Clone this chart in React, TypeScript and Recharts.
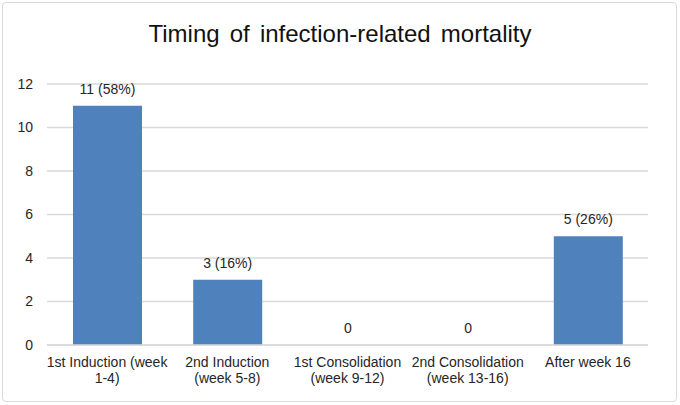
import { Bar, BarChart, CartesianGrid, LabelList, XAxis, YAxis } from "recharts";

const CATEGORIES = [
  "1st Induction (week\n1-4)",
  "2nd Induction\n(week 5-8)",
  "1st Consolidation\n(week 9-12)",
  "2nd Consolidation\n(week 13-16)",
  "After week 16",
];
const DEATHS = [11, 3, 0, 0, 5];
const PERCENTS: (number | null)[] = [58, 16, null, null, 26];
const Y_TICKS = [0, 2, 4, 6, 8, 10, 12];

const data = CATEGORIES.map((name, i) => ({
  name,
  deaths: DEATHS[i],
  label: PERCENTS[i] != null ? `${DEATHS[i]} (${PERCENTS[i]}%)` : `${DEATHS[i]}`,
}));

const FONT = "'Liberation Sans', Arial, sans-serif";
const TEXT = "#262626";

// eslint-disable-next-line @typescript-eslint/no-explicit-any
function CategoryTick({ x, y, payload }: any) {
  const lines = String(payload.value).split("\n");
  return (
    <text x={x} y={y} textAnchor="middle" fontSize={14} fill={TEXT} fontFamily={FONT}>
      {lines.map((l, i) => (
        <tspan key={i} x={x} dy={i === 0 ? 14 : 16}>
          {l}
        </tspan>
      ))}
    </text>
  );
}

// zero-valued bars still get a (hidden) rect so their labels are drawn
// eslint-disable-next-line @typescript-eslint/no-explicit-any
function BarShape(props: any) {
  const { x, y, width, height, fill, value } = props;
  const v = Array.isArray(value) ? value[1] - value[0] : value;
  if (!v) return <g />;
  return <rect x={x} y={y} width={width} height={height} fill={fill} />;
}

export default function App() {
  return (
    <div style={{ position: "absolute", left: 0, top: 0, width: 680, height: 405, background: "#fff" }}>
      <div
        style={{
          position: "absolute",
          left: 2,
          top: 2,
          width: 673,
          height: 398,
          border: "1.5px solid #d9d9d9",
          borderRadius: 4,
        }}
      />
      <div
        style={{
          position: "absolute",
          left: 0,
          top: 20,
          width: 680,
          textAlign: "center",
          fontFamily: FONT,
          fontSize: 24,
          color: "#111",
          wordSpacing: 3.5,
        }}
      >
        Timing of infection-related mortality
      </div>
      <div style={{ position: "absolute", left: 0, top: 0 }}>
        <BarChart
          width={680}
          height={405}
          data={data}
          margin={{ top: 84, right: 32, bottom: 10, left: 0 }}
        >
          <CartesianGrid vertical={false} stroke="#d9d9d9" strokeWidth={1.5} />
          <XAxis
            dataKey="name"
            axisLine={{ stroke: "#d9d9d9", strokeWidth: 1.5 }}
            tickLine={false}
            height={50}
            interval={0}
            tick={<CategoryTick />}
          />
          <YAxis
            width={47}
            domain={[0, 12]}
            ticks={Y_TICKS}
            axisLine={false}
            tickLine={false}
            tickMargin={8}
            tick={{ fontSize: 14, fill: TEXT, fontFamily: FONT }}
          />
          <Bar
            dataKey="deaths"
            fill="#4f81bd"
            barSize={69}
            minPointSize={0.01}
            shape={<BarShape />}
            isAnimationActive={false}
          >
            <LabelList
              dataKey="label"
              position="top"
              offset={12}
              fontSize={14}
              fill={TEXT}
              fontFamily={FONT}
            />
          </Bar>
        </BarChart>
      </div>
    </div>
  );
}
